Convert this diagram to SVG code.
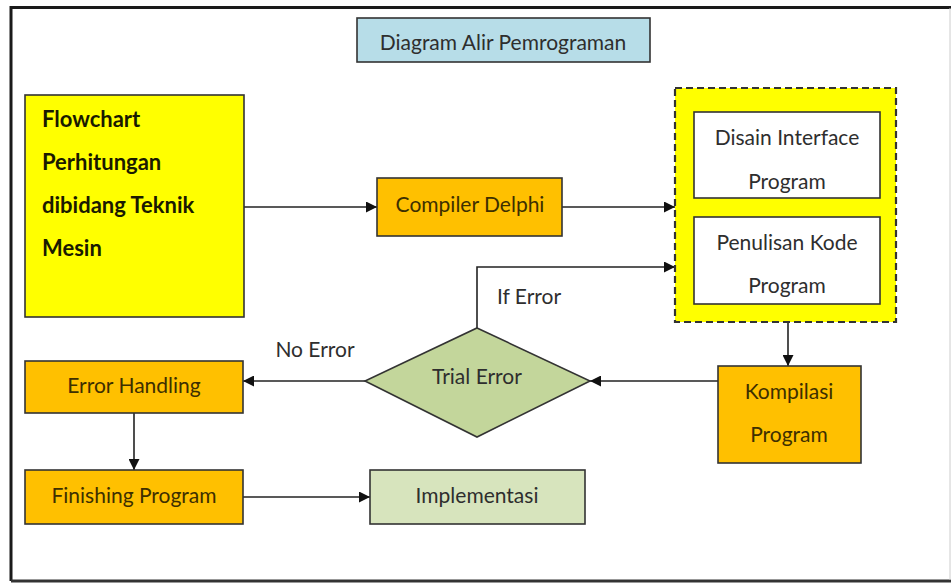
<svg xmlns="http://www.w3.org/2000/svg" width="951" height="583" viewBox="0 0 951 583">
<defs>
<style>
.t{font-family:Lato,"Open Sans","Liberation Sans",sans-serif;font-size:21px;fill:#2e2e2e;text-anchor:middle;dominant-baseline:central}
.b{font-weight:bold;font-size:22px;text-anchor:start;fill:#1a1a00}
.box{stroke:#333;stroke-width:1.6}
.ln{stroke:#222;stroke-width:1.6;fill:none}
.o{fill:#ffc000}
.dk{fill:#3d2f00}
</style>
<marker id="ah2" viewBox="0 0 10 10" refX="10" refY="5" markerWidth="11" markerHeight="11" orient="auto" markerUnits="userSpaceOnUse">
<path d="M0,0 L10,5 L0,10 z" fill="#111"/>
</marker>
</defs>
<rect width="951" height="583" fill="#fff"/>
<g id="frame">
<path d="M11,581 L11,7.5 L951,7.5" fill="none" stroke="#1a1a1a" stroke-width="3"/>
<line x1="11" y1="581" x2="951" y2="581" stroke="#333" stroke-width="3"/>
<line x1="950" y1="8" x2="950" y2="580" stroke="#ccc" stroke-width="1"/>
</g>
<g id="connectors">
<line class="ln" x1="244" y1="207" x2="377" y2="207" marker-end="url(#ah2)"/>
<line class="ln" x1="562" y1="207" x2="675" y2="207" marker-end="url(#ah2)"/>
<polyline class="ln" points="477,328 477,267 675,267" marker-end="url(#ah2)"/>
<line class="ln" x1="788" y1="322" x2="788" y2="366" marker-end="url(#ah2)"/>
<line class="ln" x1="718" y1="381" x2="590" y2="381" marker-end="url(#ah2)"/>
<line class="ln" x1="365" y1="381" x2="243" y2="381" marker-end="url(#ah2)"/>
<line class="ln" x1="134" y1="413" x2="134" y2="470" marker-end="url(#ah2)"/>
<line class="ln" x1="243" y1="497" x2="370" y2="497" marker-end="url(#ah2)"/>
<text class="t" x="529" y="295">If Error</text>
<text class="t" x="315" y="348">No Error</text>
</g>
<g id="title">
<rect class="box" x="357" y="18" width="293" height="44" fill="#b7dde8"/>
<text class="t" x="503" y="41">Diagram Alir Pemrograman</text>
</g>
<g id="flowchart">
<rect class="box" x="25" y="95" width="219" height="222" fill="#ffff00"/>
<text class="t b" x="42" y="118">Flowchart</text>
<text class="t b" x="42" y="161">Perhitungan</text>
<text class="t b" x="42" y="204">dibidang Teknik</text>
<text class="t b" x="42" y="247">Mesin</text>
</g>
<g id="compiler">
<rect class="box o" x="377" y="178" width="185" height="58"/>
<text class="t dk" x="470" y="203">Compiler Delphi</text>
</g>
<g id="group">
<rect x="675" y="88" width="221" height="234" fill="#ffff00" stroke="#333" stroke-width="2.2" stroke-dasharray="7,4"/>
</g>
<g id="disain">
<rect class="box" x="694" y="112" width="186" height="86" fill="#fff"/>
<text class="t" x="787" y="136">Disain Interface</text>
<text class="t" x="787" y="180">Program</text>
</g>
<g id="penulisan">
<rect class="box" x="694" y="217" width="186" height="87" fill="#fff"/>
<text class="t" x="787" y="241">Penulisan Kode</text>
<text class="t" x="787" y="284">Program</text>
</g>
<g id="kompilasi">
<rect class="box o" x="718" y="366" width="143" height="97"/>
<text class="t dk" x="789" y="390">Kompilasi</text>
<text class="t dk" x="789" y="433">Program</text>
</g>
<g id="trial">
<polygon class="box" points="477,328 590,381 477,437 365,381" fill="#c3d69b"/>
<text class="t" x="477" y="375">Trial Error</text>
</g>
<g id="errorhandling">
<rect class="box o" x="25" y="361" width="218" height="52"/>
<text class="t dk" x="134" y="384">Error Handling</text>
</g>
<g id="finishing">
<rect class="box o" x="25" y="470" width="218" height="54"/>
<text class="t dk" x="134" y="494">Finishing Program</text>
</g>
<g id="implementasi">
<rect class="box" x="370" y="470" width="215" height="54" fill="#d7e4bd"/>
<text class="t" x="477" y="494">Implementasi</text>
</g>
</svg>
